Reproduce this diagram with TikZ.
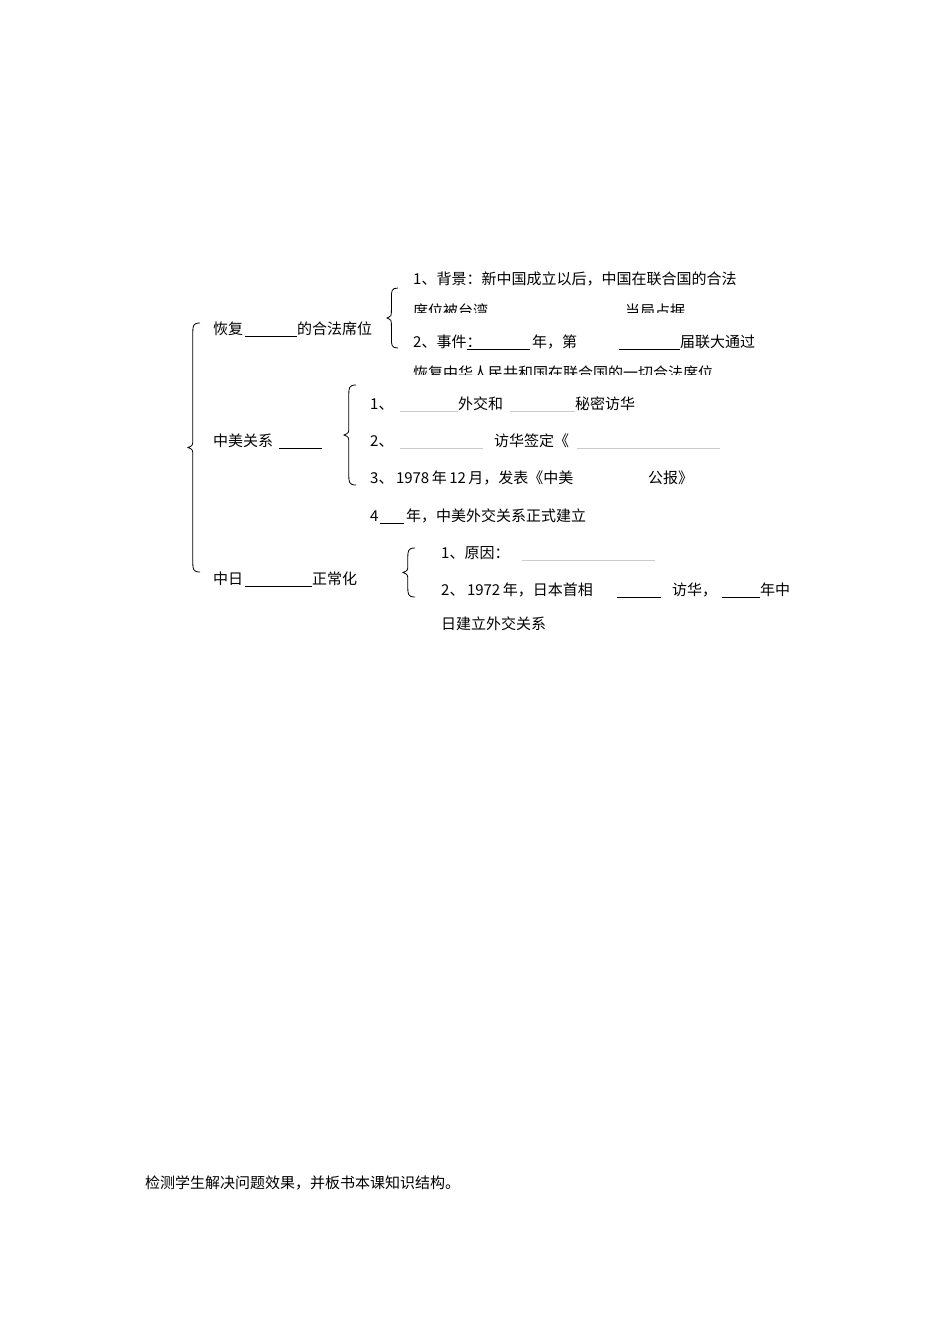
\documentclass[tikz,border=0pt]{standalone}
\usepackage{fontspec}
\setmainfont{Liberation Serif}
\newfontfamily\cjk{Noto Sans CJK SC}
\begin{document}
\begin{tikzpicture}[x=1pt,y=-1pt,
  t/.style={anchor=base west,inner sep=0pt,font=\cjk\fontsize{15}{15}\selectfont},
  ul/.style={line width=0.9pt},
  gl/.style={line width=0.5pt,gray!40},
  br/.style={line width=0.8pt}]
\useasboundingbox[fill=white] (0,0) rectangle (950,1344);
% braces
\newcommand\mybrace[4]{% x tip, top, bottom, width
  \draw[br] (#1+#4,#2) .. controls (#1+#4*0.4,#2) and (#1+#4*0.4,#2+3) .. (#1+#4*0.4,#2+10)
    -- (#1+#4*0.4,{(#2+#3)/2-8}) .. controls (#1+#4*0.4,{(#2+#3)/2-2}) .. (#1,{(#2+#3)/2})
    .. controls (#1+#4*0.4,{(#2+#3)/2+2}) .. (#1+#4*0.4,{(#2+#3)/2+8})
    -- (#1+#4*0.4,#3-10) .. controls (#1+#4*0.4,#3-3) and (#1+#4*0.4,#3) .. (#1+#4,#3);}
\mybrace{188}{323}{572}{12}
\mybrace{387}{288}{348}{11}
\mybrace{344}{385}{485}{12}
\mybrace{403}{548}{597}{12}
% group 1
\node[t] (a) at (213,334) {恢复};
\draw[ul] (245,336) -- (297,336);
\node[t] (a2) at (297,334) {的合法席位};
\node[t] (b1) at (413,284) {1、背景：新中国成立以后，中国在联合国的合法};
\begin{scope}
\clip (400,300) rectangle (800,312);
\node[t] (b2) at (413,316) {席位被台湾};
\node[t] (b3) at (625,316) {当局占据};
\node[t] (b5) at (413,378) {恢复中华人民共和国在联合国的一切合法席位};
\end{scope}
\begin{scope}
\clip (400,362) rectangle (800,374);
\node[t] (b5) at (413,378) {恢复中华人民共和国在联合国的一切合法席位};
\end{scope}
\node[t] (b4a) at (413,347) {2、事件：};
\draw[ul] (467,349) -- (530,349);
\node[t] (b4b) at (532,347) {年，第};
\draw[ul] (619,349) -- (680,349);
\node[t] (b4c) at (680,347) {届联大通过};
% group 2
\node[t] (c) at (213,446) {中美关系};
\draw[ul] (279,448) -- (322,448);
\node[t] (d1) at (370,409) {1、};
\draw[gl] (400,411) -- (458,411);
\node[t] (d1b) at (458,409) {外交和};
\draw[gl] (510,411) -- (575,411);
\node[t] (d1c) at (575,409) {秘密访华};
\node[t] (d2) at (370,446) {2、};
\draw[gl] (400,448) -- (483,448);
\node[t] (d2b) at (494,446) {访华签定《};
\draw[gl] (577,448) -- (720,448);
\node[t] (d3) at (370,483) {3、\,1978\,年\,12\,月，发表《中美};
\node[t] (d3b) at (648,483) {公报》};
\node[t] (d4) at (370,521) {4};
\draw[ul] (380,523) -- (404,523);
\node[t] (d4b) at (406,521) {年，中美外交关系正式建立};
% group 3
\node[t] (e) at (213,584) {中日};
\draw[ul] (245,586) -- (312,586);
\node[t] (e2) at (312,584) {正常化};
\node[t] (f1) at (441,558) {1、原因：};
\draw[gl] (522,560) -- (655,560);
\node[t] (f2) at (441,595) {2、\,1972\,年，日本首相};
\draw[ul] (617,597) -- (661,597);
\node[t] (f2b) at (672,595) {访华，};
\draw[ul] (722,597) -- (760,597);
\node[t] (f2c) at (760,595) {年中};
\node[t] (f3) at (441,629) {日建立外交关系};
\node[t] (g) at (145,1188) {检测学生解决问题效果，并板书本课知识结构。};
\end{tikzpicture}
\end{document}
